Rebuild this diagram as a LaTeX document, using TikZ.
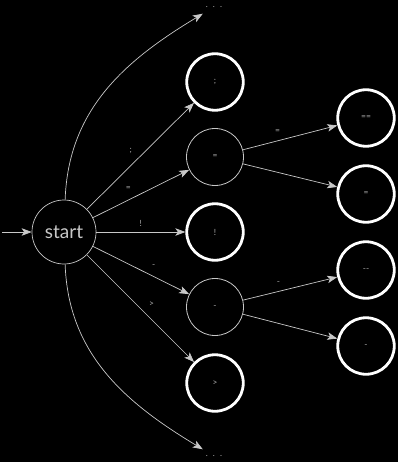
\documentclass[tikz,border=0pt]{standalone}
\usepackage{fontspec}
\setmainfont{Lato}
\usetikzlibrary{arrows.meta}
\definecolor{linegray}{RGB}{200,200,200}
\definecolor{labgray}{RGB}{170,170,170}
\begin{document}
\begin{tikzpicture}[x=1pt,y=1pt,
  state/.style={circle, draw=linegray, line width=0.8pt, minimum size=57pt, inner sep=0pt,
    text=labgray, font=\fontsize{8.5}{10}\selectfont},
  accept/.style={circle, draw=white, line width=2.8pt, minimum size=56.5pt, inner sep=0pt,
    text=labgray, font=\fontsize{8.5}{10}\selectfont},
  edge/.style={draw=linegray, line width=0.7pt, -{Stealth[length=10pt,width=7.5pt,inset=2.5pt]}},
  lbl/.style={auto, text=labgray, font=\fontsize{8.5}{10}\selectfont, inner sep=5pt},
  dotsbox/.style={text=labgray, font=\fontsize{8.5}{10}\selectfont, inner sep=6pt}]

% sfondo
\fill[black] (0,0) rectangle (398,-462);
\useasboundingbox (0,0) rectangle (398,-462);

% stato iniziale
\node[state, line width=0.7pt, minimum size=64pt, text=linegray, font=\fontsize{19}{21}\selectfont]
  (start) at (64,-232) {start};
\coordinate (init) at (2,-232);
\draw[edge] (init) -- (start);

% seconda colonna
\node[accept] (semi) at (215,-82) {;};
\node[state] (eq) at (215,-157) {=};
\node[accept] (excl) at (215,-232) {!};
\node[state] (minus) at (215,-307) {-};
\node[accept] (gt) at (215,-383) {>};
\node[dotsbox] (topdots) at (214,-7) {.\hspace{5pt}.\hspace{5pt}.};
\node[dotsbox] (botdots) at (214,-456) {.\hspace{5pt}.\hspace{5pt}.};

% terza colonna
\node[accept] (eqeq) at (366,-118) {==};
\node[accept] (eqone) at (366,-194) {=};
\node[accept] (mm) at (366,-270) {-{}-};
\node[accept] (mone) at (366,-346) {-};

% transizioni
\draw[edge] (start) -- node[lbl, pos=.47] {;} (semi);
\draw[edge] (start) -- node[lbl, pos=.45] {=} (eq);
\draw[edge] (start) -- node[lbl] {!} (excl);
\draw[edge] (start) -- node[lbl, pos=.56] {-} (minus);
\draw[edge] (start) -- node[lbl, pos=.53] {>} (gt);
\draw[edge] (start) to[out=88, in=211] (topdots);
\draw[edge] (start) to[out=-88, in=149] (botdots);

\draw[edge] (eq) -- node[lbl, pos=.45] {=} (eqeq);
\draw[edge] (eq) -- (eqone);
\draw[edge] (minus) -- node[lbl, pos=.45] {-} (mm);
\draw[edge] (minus) -- (mone);

\end{tikzpicture}
\end{document}
